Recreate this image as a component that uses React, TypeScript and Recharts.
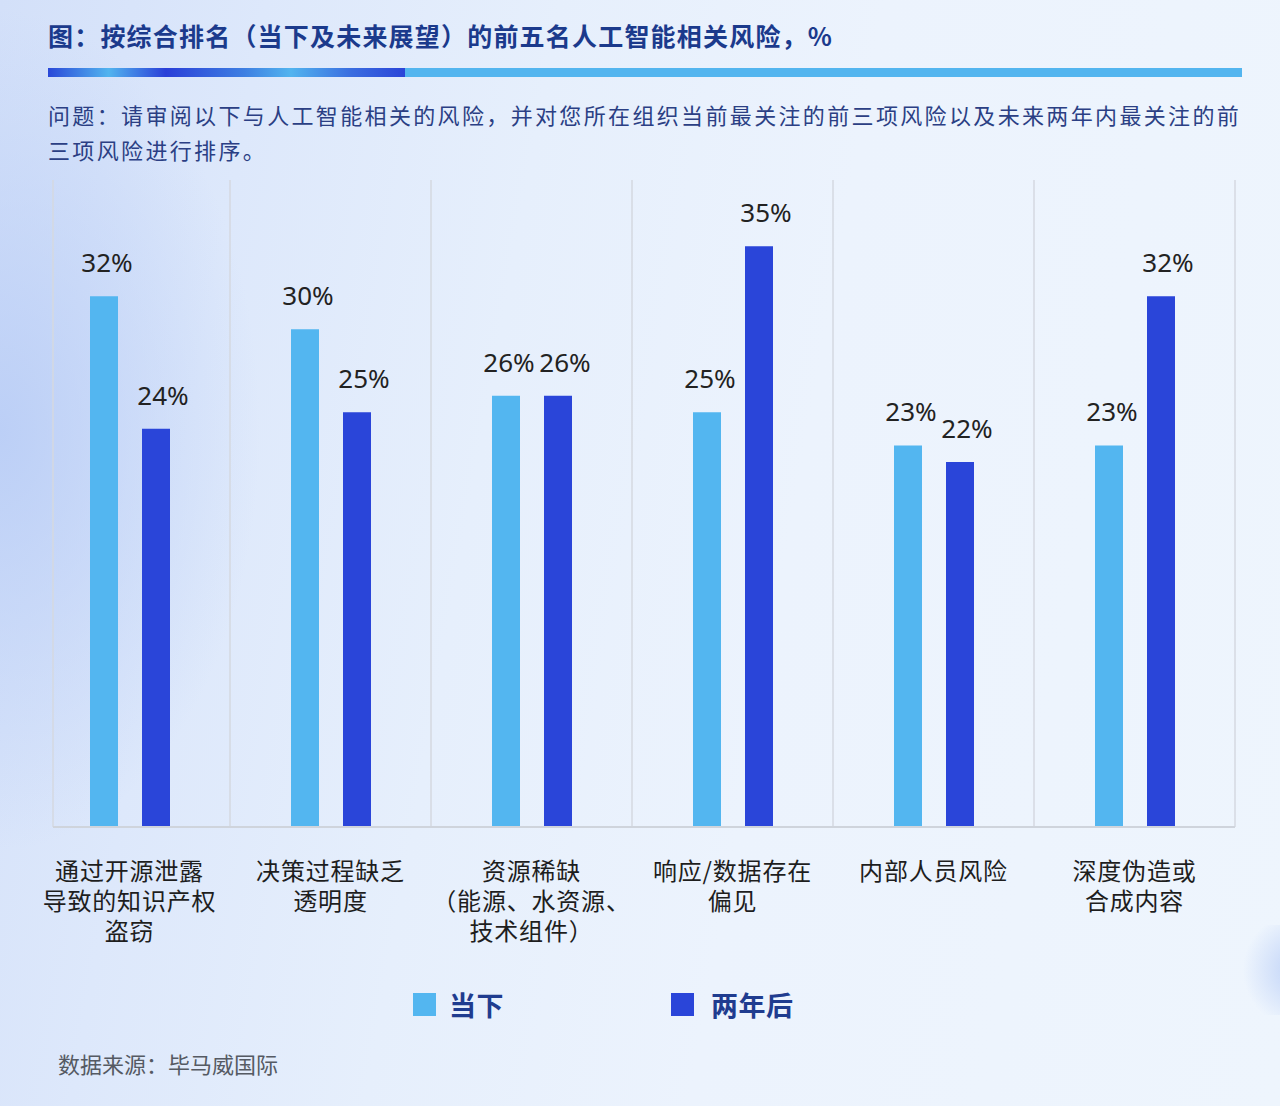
import React from "react";
import { BarChart, Bar, XAxis, YAxis, CartesianGrid, LabelList } from "recharts";

const categories = [
  "通过开源泄露\n导致的知识产权\n盗窃",
  "决策过程缺乏\n透明度",
  "资源稀缺\n（能源、水资源、\n技术组件）",
  "响应/数据存在\n偏见",
  "内部人员风险",
  "深度伪造或\n合成内容",
];
const currentValues = [32, 30, 26, 25, 23, 23];
const futureValues = [24, 25, 26, 35, 22, 32];
const seriesNames = ["当下", "两年后"];

const LIGHT = "#53b6f0";
const DARK = "#2a45d9";
const CJK = '"Noto Sans CJK SC", "Noto Sans", sans-serif';

const data = categories.map((name, i) => ({
  name,
  current: currentValues[i],
  future: futureValues[i],
}));

function CategoryTick(props: any) {
  const { x, y, payload } = props;
  const lines = String(payload.value).split("\n");
  return (
    <g>
      {lines.map((line, i) => (
        <text
          key={i}
          x={x}
          y={y + 53 + i * 30}
          textAnchor="middle"
          fill="#1e1e1e"
          fontSize={24}
          letterSpacing={0.8}
          fontFamily={CJK}
        >
          {line}
        </text>
      ))}
    </g>
  );
}

const pct = (v: any) => `${v}%`;

export default function App() {
  return (
    <div
      style={{
        position: "absolute",
        left: 0,
        top: 0,
        width: 1280,
        height: 1106,
        overflow: "hidden",
        fontFamily: CJK,
        background:
          "radial-gradient(ellipse 260px 420px at 0px 430px, rgba(185,205,246,0.9), rgba(185,205,246,0) 100%), linear-gradient(100deg, #d3e0f9 0%, #dde8fb 18%, #e6effc 38%, #ecf3fd 60%, #eef5fd 100%)",
      }}
    >
      <div
        style={{
          position: "absolute",
          left: 1238,
          top: 925,
          width: 90,
          height: 90,
          borderRadius: 30,
          background: "radial-gradient(circle at 70% 50%, #bcd0f7, rgba(200,216,248,0) 75%)",
        }}
      />
      <div
        style={{
          position: "absolute",
          left: 48,
          top: 17,
          fontSize: 25,
          fontWeight: 700,
          color: "#1b3a8c",
          whiteSpace: "nowrap",
          letterSpacing: 1.2,
        }}
      >
        图：按综合排名（当下及未来展望）的前五名人工智能相关风险，%
      </div>
      <div
        style={{
          position: "absolute",
          left: 48,
          top: 68,
          width: 357,
          height: 9,
          background:
            "linear-gradient(90deg, #2a48d8 0%, #52b4ef 17%, #2a3fd8 33%, #3e7fe2 55%, #52b4ef 68%, #3a6de0 85%, #2b45d8 100%)",
        }}
      />
      <div
        style={{
          position: "absolute",
          left: 405,
          top: 68,
          width: 837,
          height: 9,
          background: "#53b5ef",
        }}
      />
      <div
        style={{
          position: "absolute",
          left: 48,
          top: 97,
          fontSize: 22,
          lineHeight: "35px",
          color: "#2b3f84",
          whiteSpace: "nowrap",
          letterSpacing: 2.35,
        }}
      >
        <div>问题：请审阅以下与人工智能相关的风险，并对您所在组织当前最关注的前三项风险以及未来两年内最关注的前</div>
        <div>三项风险进行排序。</div>
      </div>

      <div style={{ position: "absolute", left: 0, top: 0 }}>
        <BarChart
          width={1280}
          height={960}
          data={data}
          margin={{ top: 180, right: 45, bottom: 13, left: 29 }}
          barSize={28}
          barGap={24}
        >
          <CartesianGrid
            horizontal={false}
            stroke="#d5d9e1"
            strokeWidth={1.5}
            verticalCoordinatesGenerator={({ offset }: any) => {
              const step = offset.width / categories.length;
              return [
                offset.left + 24,
                ...categories.map((_, i) => offset.left + step * (i + 1)),
              ];
            }}
          />
          <XAxis
            dataKey="name"
            interval={0}
            height={120}
            tickSize={0}
            tickMargin={0}
            tickLine={false}
            axisLine={{ stroke: "#cfd4dc", strokeWidth: 2, strokeDasharray: "0 24 3000" }}
            tick={<CategoryTick />}
          />
          <YAxis hide domain={[0, 39]} />
          <Bar dataKey="current" name={seriesNames[0]} fill={LIGHT} isAnimationActive={false}>
            <LabelList
              dataKey="current"
              position="top"
              offset={24}
              formatter={pct}
              fill="#222"
              fontSize={26}
              dx={3}
              fontFamily='"Noto Sans", sans-serif'
            />
          </Bar>
          <Bar dataKey="future" name={seriesNames[1]} fill={DARK} isAnimationActive={false}>
            <LabelList
              dataKey="future"
              position="top"
              offset={24}
              formatter={pct}
              fill="#222"
              fontSize={26}
              dx={7}
              fontFamily='"Noto Sans", sans-serif'
            />
          </Bar>
        </BarChart>
      </div>

      <div
        style={{
          position: "absolute",
          left: 413,
          top: 986,
          display: "flex",
          alignItems: "center",
          fontSize: 27,
          fontWeight: 700,
          color: "#1f3c8f",
          height: 36,
          letterSpacing: 0.5,
        }}
      >
        <span style={{ width: 23, height: 23, background: LIGHT, display: "inline-block" }} />
        <span style={{ marginLeft: 13 }}>{seriesNames[0]}</span>
        <span
          style={{
            width: 23,
            height: 23,
            background: DARK,
            display: "inline-block",
            marginLeft: 167,
          }}
        />
        <span style={{ marginLeft: 17 }}>{seriesNames[1]}</span>
      </div>

      <div
        style={{
          position: "absolute",
          left: 58,
          top: 1047,
          fontSize: 22,
          color: "#555a63",
          whiteSpace: "nowrap",
        }}
      >
        数据来源：毕马威国际
      </div>
    </div>
  );
}
